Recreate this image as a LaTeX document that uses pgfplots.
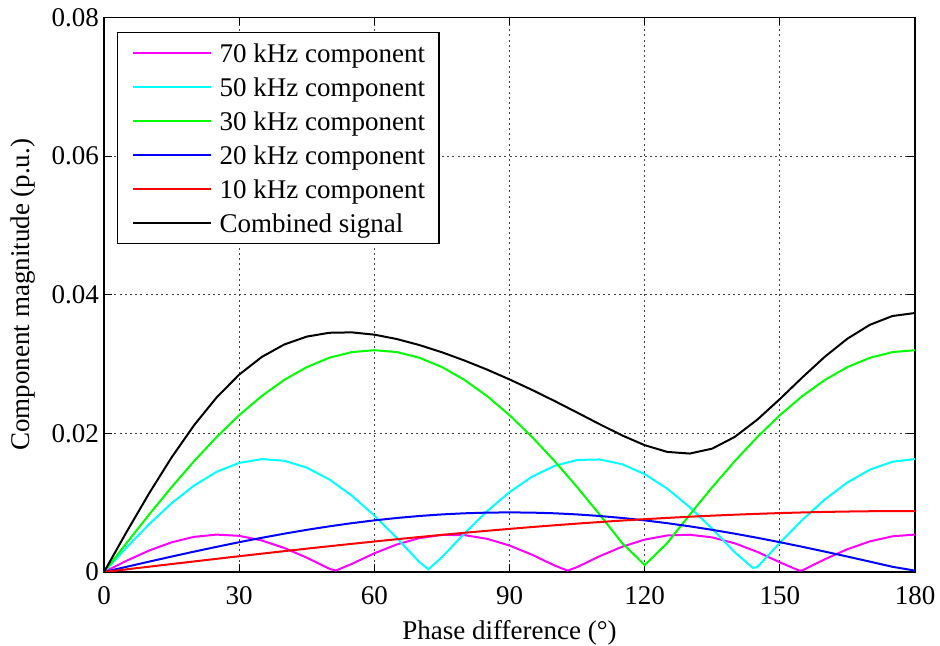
\documentclass[border=0pt]{standalone}
\usepackage{fontspec}
\setmainfont{Liberation Serif}
\usepackage{pgfplots}
\pgfplotsset{compat=1.18}
\definecolor{cMag}{rgb}{1,0,1}
\definecolor{cCy}{rgb}{0,1,1}
\definecolor{cGr}{rgb}{0,1,0}
\definecolor{cBl}{rgb}{0,0,1}
\definecolor{cRd}{rgb}{1,0,0}
\newcommand\f{\fontsize{13.5}{16.2}\selectfont}
\begin{document}
\begin{tikzpicture}
\begin{axis}[
  name=ax,
  width=405.5pt, height=277.25pt, scale only axis,
  xmin=0, xmax=180, ymin=0, ymax=0.08,
  xtick={0,30,60,90,120,150,180},
  xticklabels={0,30,60,90,120,150,180},
  ytick={0,0.02,0.04,0.06,0.08},
  yticklabels={0,0.02,0.04,0.06,0.08},
  scaled y ticks=false, scaled x ticks=false,
  xtick pos=both, ytick pos=both,
  tick align=inside,
  major tick length=4pt,
  axis line style={line width=0.75pt},
  every tick/.style={line width=0.5pt, black},
  grid=major,
  major grid style={black!75, line width=0.45pt, dash pattern=on 1pt off 1.6pt},
  /pgf/number format/assume math mode=true,
  tick label style={font=\f},
  xticklabel style={yshift=-3.5pt},
  yticklabel style={xshift=1pt},
  xlabel={Phase difference (°)},
  ylabel={Component magnitude (p.u.)},
  label style={font=\f},
  xlabel style={at={(axis description cs:0.5,0)}, anchor=north, yshift=-24pt, inner sep=0pt},
  ylabel style={at={(axis description cs:-0.1159,0.5)}, anchor=north, inner sep=0pt},
  legend cell align=left,
  legend image code/.code={\draw[#1] (0pt,0pt) -- (39pt,0pt);},
  legend style={font=\f, at={(axis description cs:0.016,0.974)}, anchor=north west,
    draw=black, line width=0.6pt, fill=white,
    inner xsep=7pt, inner ysep=1.8pt, row sep=0pt, column sep=4pt,
    nodes={inner sep=0pt, text height=13.35pt, text depth=3.65pt}},
  every axis plot/.append style={line width=1pt},
]
\addplot[cMag] coordinates {
(0,0) (5,0.001624) (10,0.003097) (15,0.004284) (20,0.005074) (25,0.005395) (30,0.005216) (35,0.004554) (40,0.003471) (45,0.002067) (50,0.000471) (51.43,0.0002) (55,0.001169) (60,0.0027) (65,0.003981) (70,0.004894) (75,0.005354) (80,0.005318) (85,0.004790) (90,0.003818) (95,0.002493) (100,0.000937) (102.86,0.0002) (105,0.000705) (110,0.002282) (115,0.003648) (120,0.004676) (125,0.005272) (130,0.005379) (135,0.004989) (140,0.004136) (145,0.002901) (150,0.001398) (154.29,0.0002) (155,0.000235) (160,0.001847) (165,0.003288) (170,0.004424) (175,0.005150) (180,0.0054)
};
\addlegendentry{70 kHz component}
\addplot[cCy] coordinates {
(0,0) (5,0.003527) (10,0.006888) (15,0.009923) (20,0.012486) (25,0.014458) (30,0.015744) (35,0.016284) (40,0.016052) (45,0.015060) (50,0.013353) (55,0.011012) (60,0.00815) (65,0.004901) (70,0.001421) (72,0.0004) (75,0.002127) (80,0.005575) (85,0.008758) (90,0.011526) (95,0.013747) (100,0.015317) (105,0.016160) (110,0.016238) (115,0.015545) (120,0.014116) (125,0.012018) (130,0.009350) (135,0.006238) (140,0.002830) (144,0.0006) (145,0.000711) (150,0.004218) (155,0.007526) (160,0.010478) (165,0.012932) (170,0.014773) (175,0.015914) (180,0.0163)
};
\addlegendentry{50 kHz component}
\addplot[cGr] coordinates {
(0,0) (5,0.004176) (10,0.008282) (15,0.012246) (20,0.016) (25,0.019482) (30,0.022627) (35,0.025389) (40,0.027712) (45,0.029565) (50,0.030909) (55,0.031725) (60,0.032) (65,0.031725) (70,0.030909) (75,0.029565) (80,0.027712) (85,0.025389) (90,0.022627) (95,0.019482) (100,0.016) (105,0.012246) (110,0.008282) (115,0.004176) (120,0.001) (125,0.004176) (130,0.008282) (135,0.012246) (140,0.016) (145,0.019482) (150,0.022627) (155,0.025389) (160,0.027712) (165,0.029565) (170,0.030909) (175,0.031725) (180,0.032)
};
\addlegendentry{30 kHz component}
\addplot[cBl] coordinates {
(0,0) (5,0.000750) (10,0.001493) (15,0.002226) (20,0.002941) (25,0.003634) (30,0.0043) (35,0.004933) (40,0.005528) (45,0.006081) (50,0.006588) (55,0.007045) (60,0.007448) (65,0.007794) (70,0.008081) (75,0.008307) (80,0.008469) (85,0.008567) (90,0.0086) (95,0.008567) (100,0.008469) (105,0.008307) (110,0.008081) (115,0.007794) (120,0.007448) (125,0.007045) (130,0.006588) (135,0.006081) (140,0.005528) (145,0.004933) (150,0.0043) (155,0.003634) (160,0.002941) (165,0.002226) (170,0.001493) (175,0.000750) (180,0.0002)
};
\addlegendentry{20 kHz component}
\addplot[cRd] coordinates {
(0,0) (5,0.000384) (10,0.000767) (15,0.001148) (20,0.001528) (25,0.001904) (30,0.002277) (35,0.002646) (40,0.003010) (45,0.003368) (50,0.003719) (55,0.004063) (60,0.0044) (65,0.004728) (70,0.005048) (75,0.005357) (80,0.005657) (85,0.005945) (90,0.006222) (95,0.006488) (100,0.006741) (105,0.006982) (110,0.007209) (115,0.007422) (120,0.007621) (125,0.007806) (130,0.007975) (135,0.008130) (140,0.008269) (145,0.008393) (150,0.008500) (155,0.008591) (160,0.008666) (165,0.008724) (170,0.008767) (175,0.008791) (180,0.0088)
};
\addlegendentry{10 kHz component}
\addplot[black] coordinates {
(0,0) (5,0.005764) (10,0.011333) (15,0.016525) (20,0.021181) (25,0.025190) (30,0.028474) (35,0.031014) (40,0.032822) (45,0.033963) (50,0.034513) (55,0.034572) (60,0.034242) (65,0.033607) (70,0.032743) (75,0.031701) (80,0.030513) (85,0.029206) (90,0.027786) (95,0.026272) (100,0.024671) (105,0.023008) (110,0.021325) (115,0.019703) (120,0.018300) (125,0.017327) (130,0.017087) (135,0.017800) (140,0.019495) (145,0.021983) (150,0.024949) (155,0.028077) (160,0.031063) (165,0.033663) (170,0.035669) (175,0.036934) (180,0.037367)
};
\addlegendentry{Combined signal}
\end{axis}
\pgfresetboundingbox
\path ([shift={(-52pt,-37pt)}]ax.south west) rectangle ([shift={(12.5pt,8.75pt)}]ax.north east);
\end{tikzpicture}
\end{document}
